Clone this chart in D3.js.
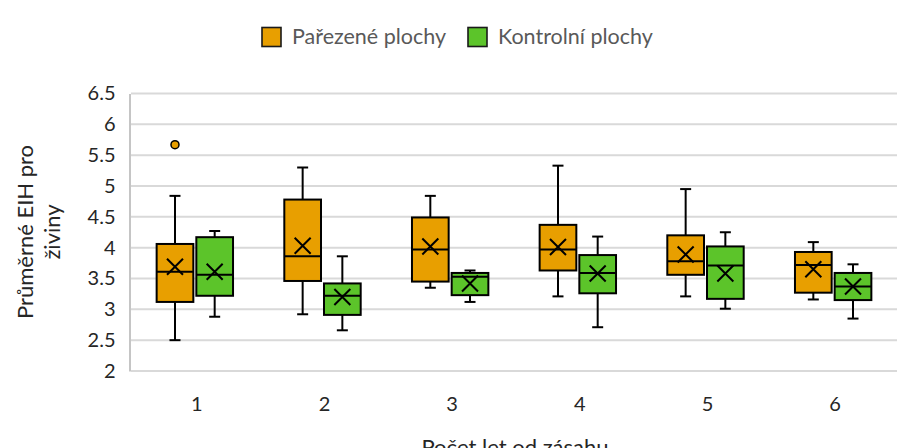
<!DOCTYPE html>
<html><head><meta charset="utf-8">
<script src="https://cdn.jsdelivr.net/npm/d3@7"></script>
<style>body{margin:0;background:#fff}svg{display:block;font-family:Lato, "Open Sans", sans-serif}</style>
</head><body><svg id="c" width="897" height="448"></svg>
<script>
const categories = ["1","2","3","4","5","6"];
const series = ["Pařezené plochy","Kontrolní plochy"];
const colors = ["#E89F00","#5CC42A"];
// Pařezené plochy
const pMin  = [2.50, 2.92, 3.35, 3.21, 3.21, 3.16];
const pQ1   = [3.12, 3.46, 3.45, 3.63, 3.56, 3.27];
const pMed  = [3.61, 3.86, 3.97, 3.97, 3.78, 3.72];
const pQ3   = [4.06, 4.78, 4.49, 4.37, 4.20, 3.93];
const pMax  = [4.84, 5.30, 4.84, 5.33, 4.95, 4.09];
const pMean = [3.69, 4.03, 4.02, 4.01, 3.89, 3.65];
const pOut  = [[5.67],[],[],[],[],[]];
// Kontrolní plochy
const kMin  = [2.88, 2.66, 3.12, 2.71, 3.01, 2.85];
const kQ1   = [3.22, 2.91, 3.23, 3.26, 3.17, 3.15];
const kMed  = [3.56, 3.22, 3.53, 3.59, 3.71, 3.37];
const kQ3   = [4.17, 3.42, 3.59, 3.88, 4.02, 3.59];
const kMax  = [4.27, 3.86, 3.63, 4.18, 4.25, 3.73];
const kMean = [3.61, 3.20, 3.42, 3.58, 3.58, 3.37];
const kOut  = [[],[],[],[],[],[]];
const yTicks = [2,2.5,3,3.5,4,4.5,5,5.5,6,6.5];
const yTitle = ["Průměrné EIH pro","živiny"];
const xTitle = "Počet let od zásahu";

const stats = [
  {min:pMin,q1:pQ1,med:pMed,q3:pQ3,max:pMax,mean:pMean,out:pOut},
  {min:kMin,q1:kQ1,med:kMed,q3:kQ3,max:kMax,mean:kMean,out:kOut}
];
const data = [];
categories.forEach((c,i)=>series.forEach((s,j)=>{
  const st = stats[j];
  data.push({cat:c,ser:s,j,min:st.min[i],q1:st.q1[i],med:st.med[i],q3:st.q3[i],max:st.max[i],mean:st.mean[i],out:st.out[i]});
}));

const svg = d3.select("#c");
const L=131, R=897, T=93.5, B=371;
const x = d3.scaleBand().domain(categories).range([L,R]);
const xs = d3.scaleBand().domain(series).range([0,x.bandwidth()]).paddingInner(0.0756).paddingOuter(0.646);
const y = d3.scaleLinear().domain([2,6.5]).range([B,T]);

// gridlines
svg.append("g").selectAll("line").data(yTicks).join("line")
  .attr("x1",L).attr("x2",R).attr("y1",d=>y(d)).attr("y2",d=>y(d))
  .attr("stroke","#d9d9d9").attr("stroke-width",2);
// y axis
const yAxis = d3.axisLeft(y).tickValues(yTicks).tickSize(0).tickPadding(14).tickFormat(d=>String(d));
const gy = svg.append("g").attr("transform",`translate(${L-1.5},0)`).call(yAxis);
gy.select(".domain").attr("stroke","#a6a6a6").attr("stroke-width",1.3);
gy.selectAll("text").attr("font-size",20).attr("fill","#262626").attr("font-family","Lato, sans-serif");
// x axis labels
const xAxis = d3.axisBottom(x).tickSize(0).tickPadding(26);
const gx = svg.append("g").attr("transform",`translate(2,${B})`).call(xAxis);
gx.select(".domain").remove();
gx.selectAll("text").attr("font-size",20).attr("fill","#262626").attr("font-family","Lato, sans-serif");

// boxes
const bw = xs.bandwidth();
const g = svg.append("g").selectAll("g").data(data).join("g")
  .attr("transform",d=>`translate(${x(d.cat)+xs(d.ser)},0)`);
g.append("line").attr("x1",bw/2).attr("x2",bw/2).attr("y1",d=>y(d.max)).attr("y2",d=>y(d.q3)).attr("stroke","#000").attr("stroke-width",2);
g.append("line").attr("x1",bw/2).attr("x2",bw/2).attr("y1",d=>y(d.q1)).attr("y2",d=>y(d.min)).attr("stroke","#000").attr("stroke-width",2);
g.append("line").attr("x1",bw/2-5.5).attr("x2",bw/2+5.5).attr("y1",d=>y(d.max)).attr("y2",d=>y(d.max)).attr("stroke","#000").attr("stroke-width",2);
g.append("line").attr("x1",bw/2-5.5).attr("x2",bw/2+5.5).attr("y1",d=>y(d.min)).attr("y2",d=>y(d.min)).attr("stroke","#000").attr("stroke-width",2);
g.append("rect").attr("x",0).attr("width",bw).attr("y",d=>y(d.q3)).attr("height",d=>y(d.q1)-y(d.q3))
  .attr("fill",d=>colors[d.j]).attr("stroke","#000").attr("stroke-width",2);
g.append("line").attr("x1",0).attr("x2",bw).attr("y1",d=>y(d.med)).attr("y2",d=>y(d.med)).attr("stroke","#000").attr("stroke-width",2);
const m=8;
g.append("path").attr("d",d=>{const cx=bw/2, cy=y(d.mean);return `M${cx-m},${cy-m}L${cx+m},${cy+m}M${cx-m},${cy+m}L${cx+m},${cy-m}`;})
  .attr("stroke","#000").attr("stroke-width",2).attr("fill","none");
g.selectAll("circle").data(d=>d.out.map(v=>({v,j:d.j}))).join("circle")
  .attr("cx",bw/2).attr("cy",d=>y(d.v)).attr("r",4).attr("fill",d=>colors[d.j]).attr("stroke","#000").attr("stroke-width",1.5);

// legend
const leg = svg.append("g");
const lx=[262,468];
series.forEach((s,j)=>{
  leg.append("rect").attr("x",lx[j]).attr("y",27.5).attr("width",19).attr("height",19).attr("fill",colors[j]).attr("stroke","#1a1a1a").attr("stroke-width",1.6);
  leg.append("text").attr("x",lx[j]+30).attr("y",43.5).attr("font-size",21.5).attr("fill","#595959").text(s);
});

// titles
const yt = svg.append("text").attr("transform",`translate(33,232) rotate(-90)`).attr("text-anchor","middle").attr("font-size",22).attr("fill","#262626");
yt.selectAll("tspan").data(yTitle).join("tspan").attr("x",0).attr("dy",(d,i)=>i?27:0).text(d=>d);
svg.append("text").attr("x",515).attr("y",455).attr("text-anchor","middle").attr("font-size",22).attr("fill","#262626").text(xTitle);
</script></body></html>
